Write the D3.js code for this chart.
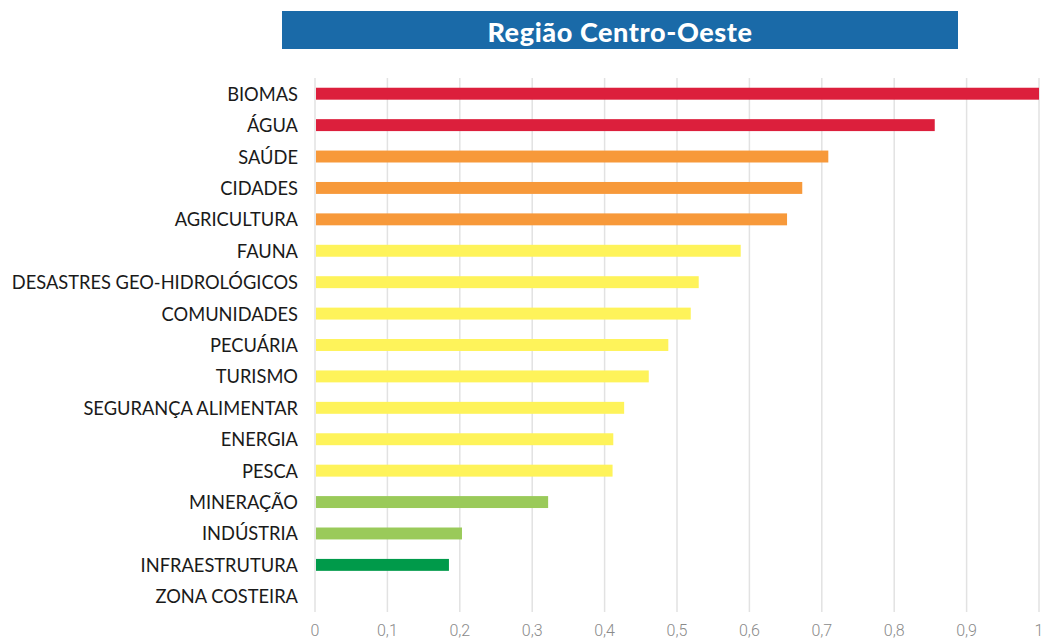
<!DOCTYPE html>
<html>
<head>
<meta charset="utf-8">
<script src="https://cdn.jsdelivr.net/npm/d3@7"></script>
<style>
  body { margin: 0; background: #fff; }
</style>
</head>
<body>
<div id="visual"></div>
<script>
// data
var categories = ["BIOMAS", "ÁGUA", "SAÚDE", "CIDADES", "AGRICULTURA", "FAUNA",
  "DESASTRES GEO-HIDROLÓGICOS", "COMUNIDADES", "PECUÁRIA", "TURISMO",
  "SEGURANÇA ALIMENTAR", "ENERGIA", "PESCA", "MINERAÇÃO", "INDÚSTRIA",
  "INFRAESTRUTURA", "ZONA COSTEIRA"];
var values = [1.0, 0.856, 0.709, 0.673, 0.652, 0.588, 0.530, 0.519, 0.488, 0.461,
  0.427, 0.412, 0.411, 0.322, 0.203, 0.185, 0];
var levels = ["alto", "alto", "medio", "medio", "medio", "baixo", "baixo", "baixo", "baixo", "baixo",
  "baixo", "baixo", "baixo", "menor", "menor", "minimo", "minimo"];
var tickValues = [0, 0.1, 0.2, 0.3, 0.4, 0.5, 0.6, 0.7, 0.8, 0.9, 1];
var title = "Região Centro-Oeste";

var colors = {alto: "#dc1f3c", medio: "#f7993a", baixo: "#fef35a", menor: "#9aca5a", minimo: "#009a4a"};

var width = 1042, height = 640;
var margin = {left: 315, right: 3};

var svg = d3.select("#visual").append("svg")
  .attr("width", width)
  .attr("height", height);

// title banner
svg.append("rect")
  .attr("x", 282).attr("y", 11).attr("width", 676).attr("height", 38)
  .attr("fill", "#1a6aa8");
svg.append("text")
  .attr("x", 620).attr("y", 31)
  .attr("text-anchor", "middle")
  .attr("dominant-baseline", "central")
  .attr("fill", "#fff")
  .style("font-family", "Lato")
  .style("font-weight", 900)
  .style("font-size", "27px")
  .style("letter-spacing", "0.6px")
  .text(title);

var x = d3.scaleLinear().domain([0, 1]).range([margin.left, width - margin.right]);
var y = d3.scaleBand().domain(categories).range([78, 612]).paddingInner(0.62).paddingOuter(0.31);

// grid
svg.append("g")
  .selectAll("line")
  .data(tickValues)
  .enter().append("line")
  .attr("x1", function(d) { return x(d); })
  .attr("x2", function(d) { return x(d); })
  .attr("y1", 78).attr("y2", 612)
  .attr("stroke", "#e2e2e2")
  .attr("stroke-width", 1.5);

// x tick labels
svg.append("g")
  .selectAll("text")
  .data(tickValues)
  .enter().append("text")
  .attr("x", function(d) { return x(d); })
  .attr("y", 630)
  .attr("text-anchor", "middle")
  .attr("dominant-baseline", "central")
  .attr("fill", "#8a8a8a")
  .style("font-family", "Roboto")
  .style("font-weight", 300)
  .style("font-size", "16px")
  .text(function(d) { return String(d).replace(".", ","); });

// bars
svg.append("g")
  .selectAll("rect")
  .data(categories)
  .enter().append("rect")
  .attr("x", x(0) + 1)
  .attr("y", function(d) { return y(d); })
  .attr("width", function(d, i) { return Math.max(0, x(values[i]) - x(0) - 1); })
  .attr("height", y.bandwidth())
  .attr("fill", function(d, i) { return colors[levels[i]]; });

// category labels
svg.append("g")
  .selectAll("text")
  .data(categories)
  .enter().append("text")
  .attr("x", 298)
  .attr("y", function(d) { return y(d) + y.bandwidth() / 2; })
  .attr("text-anchor", "end")
  .attr("dominant-baseline", "central")
  .attr("fill", "#1a1a1a")
  .style("font-family", "Lato")
  .style("font-size", "18.3px")
  .text(function(d) { return d; });
</script>
</body>
</html>
